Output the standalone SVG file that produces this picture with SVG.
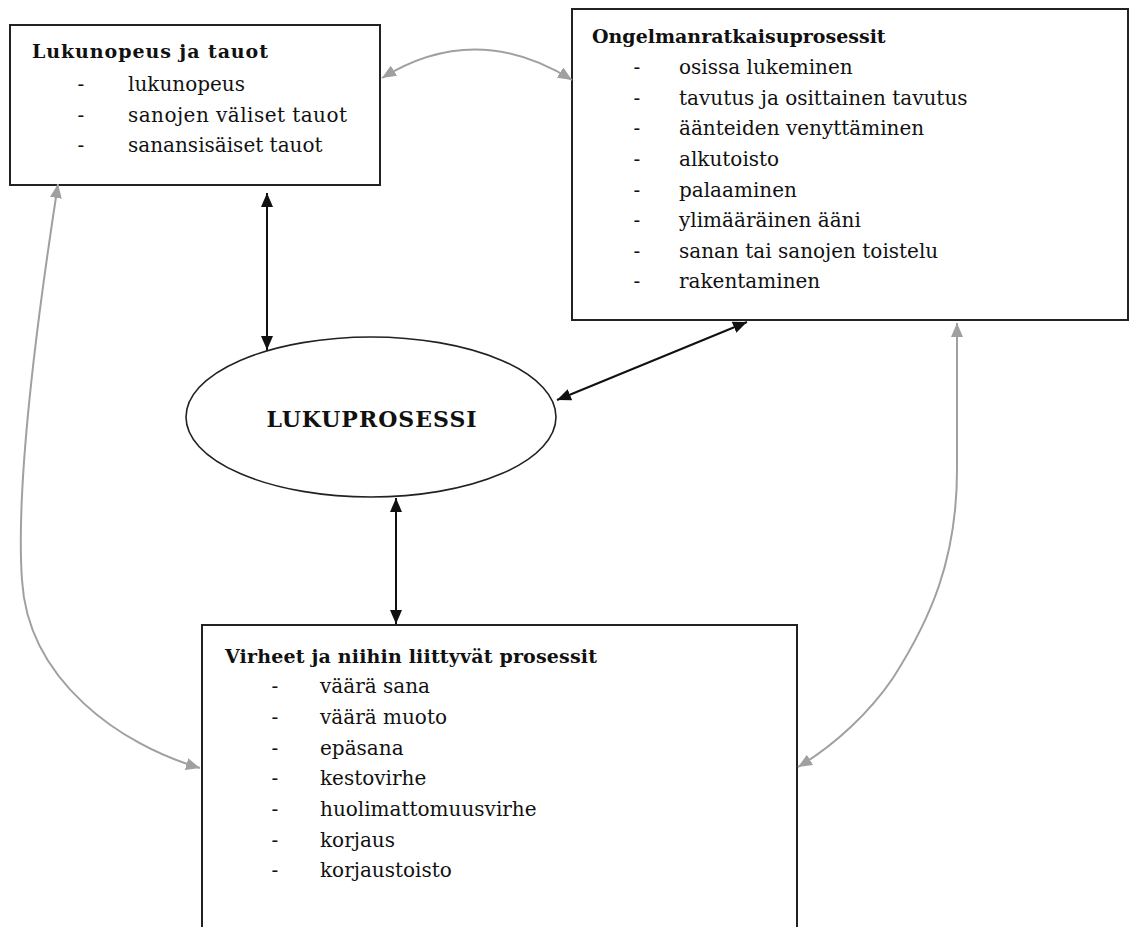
<svg xmlns="http://www.w3.org/2000/svg" width="1130" height="927" viewBox="0 0 1130 927">
<style>
.box{fill:#fff;stroke:#222;stroke-width:2}
.ell{fill:#fff;stroke:#222;stroke-width:1.6}
.t{font-family:"DejaVu Serif","Liberation Serif",serif;font-size:20px;fill:#111}
.h{font-family:"DejaVu Serif","Liberation Serif",serif;font-size:19px;font-weight:bold;fill:#111}
.c{font-family:"DejaVu Serif","Liberation Serif",serif;font-size:22px;font-weight:bold;fill:#111;letter-spacing:1px}
.d{font-family:"DejaVu Serif","Liberation Serif",serif;font-size:20px;fill:#111;text-anchor:middle}
.blk{fill:none;stroke:#111;stroke-width:2;marker-start:url(#ab);marker-end:url(#ab)}
.gry{fill:none;stroke:#a0a0a0;stroke-width:2;marker-start:url(#ag);marker-end:url(#ag)}
</style>
<defs>
<marker id="ab" viewBox="0 0 14 12" refX="14" refY="6" markerWidth="14" markerHeight="12" markerUnits="userSpaceOnUse" orient="auto-start-reverse"><path d="M0,0 L14,6 L0,12 z" fill="#111"/></marker>
<marker id="ag" viewBox="0 0 14 12" refX="14" refY="6" markerWidth="14" markerHeight="12" markerUnits="userSpaceOnUse" orient="auto-start-reverse"><path d="M0,0 L14,6 L0,12 z" fill="#a0a0a0"/></marker>
</defs>
<rect width="1130" height="927" fill="#fff"/>
<g id="n1">
<rect class="box" x="10" y="25" width="370" height="160"/>
<text class="h" x="32" y="58" textLength="236" lengthAdjust="spacing">Lukunopeus ja tauot</text>
<text class="d" x="81" y="91">-</text><text class="t" x="128" y="91">lukunopeus</text>
<text class="d" x="81" y="122">-</text><text class="t" x="128" y="122" textLength="219" lengthAdjust="spacing">sanojen väliset tauot</text>
<text class="d" x="81" y="152">-</text><text class="t" x="128" y="152">sanansisäiset tauot</text>
</g>
<g id="n2">
<rect class="box" x="572" y="9" width="556" height="311"/>
<text class="h" x="592" y="43">Ongelmanratkaisuprosessit</text>
<text class="d" x="637" y="74">-</text><text class="t" x="679" y="74">osissa lukeminen</text>
<text class="d" x="637" y="105">-</text><text class="t" x="679" y="105">tavutus ja osittainen tavutus</text>
<text class="d" x="637" y="135">-</text><text class="t" x="679" y="135">äänteiden venyttäminen</text>
<text class="d" x="637" y="166">-</text><text class="t" x="679" y="166">alkutoisto</text>
<text class="d" x="637" y="197">-</text><text class="t" x="679" y="197">palaaminen</text>
<text class="d" x="637" y="227">-</text><text class="t" x="679" y="227">ylimääräinen ääni</text>
<text class="d" x="637" y="258">-</text><text class="t" x="679" y="258">sanan tai sanojen toistelu</text>
<text class="d" x="637" y="288">-</text><text class="t" x="679" y="288">rakentaminen</text>
</g>
<g id="n3">
<ellipse class="ell" cx="371" cy="417" rx="185" ry="80"/>
<text class="c" x="372" y="427" text-anchor="middle">LUKUPROSESSI</text>
</g>
<g id="n4">
<rect class="box" x="202" y="625" width="595" height="330"/>
<text class="h" x="225" y="663" textLength="372" lengthAdjust="spacing">Virheet ja niihin liittyvät prosessit</text>
<text class="d" x="275" y="693">-</text><text class="t" x="320" y="693">väärä sana</text>
<text class="d" x="275" y="724">-</text><text class="t" x="320" y="724">väärä muoto</text>
<text class="d" x="275" y="755">-</text><text class="t" x="320" y="755">epäsana</text>
<text class="d" x="275" y="785">-</text><text class="t" x="320" y="785">kestovirhe</text>
<text class="d" x="275" y="816">-</text><text class="t" x="320" y="816">huolimattomuusvirhe</text>
<text class="d" x="275" y="847">-</text><text class="t" x="320" y="847">korjaus</text>
<text class="d" x="275" y="877">-</text><text class="t" x="320" y="877">korjaustoisto</text>
</g>
<g id="connectors">
<path class="blk" d="M267,193 L267,350"/>
<path class="blk" d="M557,400 L747,322"/>
<path class="blk" d="M396,498 L396,624"/>
<path class="gry" d="M382,78 Q476,20 572,80"/>
<path class="gry" d="M58,184 C40,300 15,480 22,580 C28,680 120,745 200,768"/>
<path class="gry" d="M957,323 L957,470 C957,560 930,620 893,678 C870,712 835,745 798,767"/>
</g>
</svg>
